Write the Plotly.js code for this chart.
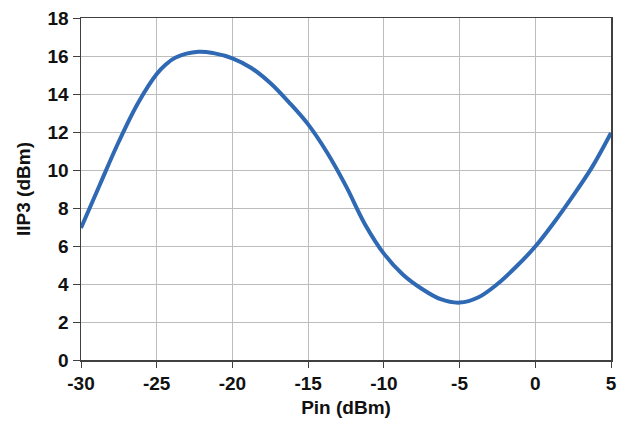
<!DOCTYPE html>
<html>
<head>
<meta charset="utf-8">
<script src="https://cdn.plot.ly/plotly-3.0.1.min.js"></script>
<style>
html,body{margin:0;padding:0;background:#fff;}
#chart{width:627px;height:426px;}
</style>
</head>
<body>
<div id="chart"></div>
<script>
const pin = [-30, -28.75, -27.5, -26.25, -25, -24.4, -23.75, -22.25, -21.25, -20, -18.75, -17.5, -16.25, -15, -13.75, -12.5, -11.25, -10, -8.75, -7.5, -6.25, -5, -3.75, -2.5, -1.25, 0, 1.25, 2.5, 3.75, 5];
const iip3 = [6.95, 9.24, 11.5, 13.5, 15.05, 15.55, 15.92, 16.22, 16.15, 15.88, 15.37, 14.58, 13.55, 12.4, 10.92, 9.15, 7.15, 5.6, 4.5, 3.75, 3.2, 3.02, 3.3, 4.0, 4.92, 5.97, 7.25, 8.65, 10.15, 11.95];
const xTicks = [-30, -25, -20, -15, -10, -5, 0, 5];
const yTicks = [0, 2, 4, 6, 8, 10, 12, 14, 16, 18];

const fontFam = '"Liberation Sans", Arial, sans-serif';

Plotly.newPlot('chart', [{
  x: pin, y: iip3, type: 'scatter', mode: 'lines',
  line: {color: '#2F69B3', width: 4, shape: 'spline', smoothing: 1},
  hoverinfo: 'skip'
}], {
  width: 627, height: 426,
  margin: {l: 81, r: 16, t: 18, b: 66},
  paper_bgcolor: '#fff', plot_bgcolor: '#fff',
  showlegend: false,
  font: {family: fontFam, size: 19, color: '#111'},
  xaxis: {
    range: [-30, 5], tickvals: xTicks, ticktext: xTicks.map(String),
    showgrid: true, gridcolor: '#BDBDBD', gridwidth: 1,
    showline: true, linecolor: '#404040', linewidth: 1.5, mirror: true,
    ticks: 'outside', ticklen: 6, tickcolor: '#404040', tickwidth: 1,
    zeroline: false,
    tickfont: {family: fontFam, size: 19, color: '#111', weight: 'bold'},
    title: {text: '<b>Pin (dBm)</b>', font: {family: fontFam, size: 19, color: '#111'}, standoff: 7}
  },
  yaxis: {
    range: [0, 18], tickvals: yTicks, ticktext: yTicks.map(String),
    showgrid: true, gridcolor: '#BDBDBD', gridwidth: 1,
    showline: true, linecolor: '#404040', linewidth: 1.5, mirror: true,
    ticks: 'outside', ticklen: 7, tickcolor: '#404040', tickwidth: 1,
    zeroline: false,
    tickfont: {family: fontFam, size: 19, color: '#111', weight: 'bold'},
    title: {text: '<b>IIP3 (dBm)</b>', font: {family: fontFam, size: 19, color: '#111'}, standoff: 12}
  }
}, {staticPlot: true, displayModeBar: false});
</script>
</body>
</html>
